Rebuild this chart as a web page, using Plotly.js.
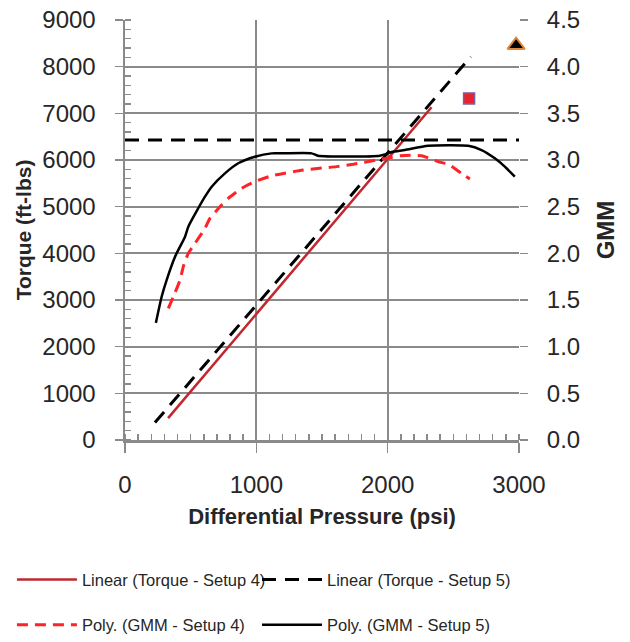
<!DOCTYPE html>
<html>
<head>
<meta charset="utf-8">
<script src="https://cdn.plot.ly/plotly-3.0.1.min.js"></script>
<style>
  html, body { margin: 0; padding: 0; background: #ffffff; }
  #chart { width: 630px; height: 642px; }
</style>
</head>
<body>
<div id="chart"></div>
<script>
// ---- Data ----
// Linear trendlines of torque (ft-lbs) vs differential pressure (psi)
const linTorque4Pressure = [328, 2334];
const linTorque4Values   = [470, 7130];
const linTorque5Pressure = [228, 2633];
const linTorque5Values   = [375, 8214];

// Polynomial fits of GMM vs differential pressure (psi)
const polyGmm4Pressure = [330, 368, 419, 444, 482, 533, 609, 647, 736, 786, 888, 989, 1116, 1357, 1611, 1738, 1916, 2000, 2100, 2258, 2384, 2461, 2562, 2626];
const polyGmm4Values   = [1.41, 1.535, 1.714, 1.857, 2.0, 2.107, 2.268, 2.375, 2.518, 2.589, 2.696, 2.768, 2.83, 2.893, 2.929, 2.954, 3.0, 3.02, 3.046, 3.046, 2.982, 2.954, 2.857, 2.796];

const polyGmm5Pressure = [235, 279, 317, 381, 457, 482, 558, 609, 660, 761, 862, 989, 1116, 1200, 1421, 1469, 1941, 2032, 2131, 2308, 2613, 2715, 2816, 2892, 2968];
const polyGmm5Values   = [1.255, 1.535, 1.714, 1.964, 2.178, 2.285, 2.483, 2.607, 2.714, 2.857, 2.965, 3.035, 3.071, 3.071, 3.071, 3.046, 3.046, 3.086, 3.107, 3.153, 3.153, 3.107, 3.018, 2.929, 2.821];

// Horizontal reference (GMM) line
const flatGmmPressure = [0, 3000];
const flatGmmValues   = [3.214, 3.214];

// Single points (GMM)
const squarePressure = [2620];
const squareGmm      = [3.66];
const trianglePressure = [2978];
const triangleGmm      = [4.23];

// Axis ticks
const xTicks  = [0, 1000, 2000, 3000];
const yTicks  = [0, 1000, 2000, 3000, 4000, 5000, 6000, 7000, 8000, 9000];
const y2Ticks = [0, 0.5, 1.0, 1.5, 2.0, 2.5, 3.0, 3.5, 4.0, 4.5];

// ---- Styles ----
const gridCol = '#8a8a8a';
const textCol = '#262626';
const tickFont = { family: 'Liberation Sans, Arial, sans-serif', size: 24, color: textCol };
const legFont = { family: 'Liberation Sans Narrow, Liberation Sans, Arial, sans-serif', size: 16.5, color: textCol };

const traces = [
  { x: linTorque4Pressure, y: linTorque4Values, mode: 'lines', name: 'Linear (Torque - Setup 4)',
    line: { color: '#c1272d', width: 2.5 }, legend: 'legend', yaxis: 'y' },
  { x: linTorque5Pressure, y: linTorque5Values, mode: 'lines', name: 'Linear (Torque - Setup 5)',
    line: { color: '#000000', width: 3, dash: '14px,9px' }, legend: 'legend2', yaxis: 'y' },
  { x: polyGmm4Pressure, y: polyGmm4Values, mode: 'lines', name: 'Poly. (GMM - Setup 4)',
    line: { color: '#ff2226', width: 3, dash: '11px,7px', shape: 'spline', smoothing: 0.6 }, legend: 'legend3', yaxis: 'y2' },
  { x: polyGmm5Pressure, y: polyGmm5Values, mode: 'lines', name: 'Poly. (GMM - Setup 5)',
    line: { color: '#000000', width: 2.5, shape: 'spline', smoothing: 0.6 }, legend: 'legend4', yaxis: 'y2' },
  { x: flatGmmPressure, y: flatGmmValues, mode: 'lines', showlegend: false,
    line: { color: '#000000', width: 3, dash: '14px,9px' }, yaxis: 'y2' },
  { x: squarePressure, y: squareGmm, mode: 'markers', showlegend: false, yaxis: 'y2', cliponaxis: false,
    marker: { symbol: 'square', size: 11, color: '#e8242a', line: { color: '#7a5ea8', width: 1.5 } } },
  { x: trianglePressure, y: triangleGmm, mode: 'markers', showlegend: false, yaxis: 'y2', cliponaxis: false,
    marker: { symbol: 'triangle-up', size: 15, color: '#000000', line: { color: '#e0873a', width: 2 } } }
];

function legendAt(x, y) {
  return {
    orientation: 'h', x: x, xanchor: 'left', y: y, yanchor: 'middle',
    itemwidth: 60, font: legFont, bgcolor: 'rgba(0,0,0,0)'
  };
}

const layout = {
  width: 630, height: 642,
  margin: { l: 125, r: 111, t: 20, b: 202, autoexpand: false },
  paper_bgcolor: '#ffffff', plot_bgcolor: '#ffffff',
  font: { family: 'Liberation Sans, Arial, sans-serif', color: textCol },
  xaxis: {
    range: [0, 3000], tickvals: xTicks, ticktext: xTicks.map(String),
    showgrid: true, gridcolor: gridCol, gridwidth: 2, zeroline: false,
    showline: true, linecolor: gridCol, linewidth: 2.5,
    ticks: 'outside', ticklen: 10, tickwidth: 1.5, tickcolor: gridCol,
    ticklabelstandoff: 12, tickfont: tickFont,
    minor: { dtick: 100, tick0: 0, ticks: 'inside', ticklen: 6, tickwidth: 1.5, tickcolor: gridCol, showgrid: false },
    title: { text: 'Differential Pressure (psi)', font: { family: 'Liberation Sans, Arial, sans-serif', size: 22, weight: 'bold', color: textCol }, standoff: 12 }
  },
  yaxis: {
    range: [0, 9000], tickvals: yTicks, ticktext: yTicks.map(String),
    showgrid: true, gridcolor: gridCol, gridwidth: 2, zeroline: false,
    showline: true, linecolor: gridCol, linewidth: 2.5,
    ticks: 'outside', ticklen: 8, tickwidth: 1.5, tickcolor: gridCol,
    ticklabelstandoff: 14, tickfont: tickFont,
    minor: { dtick: 200, tick0: 0, ticks: 'inside', ticklen: 6, tickwidth: 1.5, tickcolor: gridCol, showgrid: false },
    title: { text: 'Torque (ft-lbs)', font: { family: 'Liberation Sans, Arial, sans-serif', size: 21, weight: 'bold', color: textCol }, standoff: 5 }
  },
  yaxis2: {
    overlaying: 'y', side: 'right', anchor: 'x',
    range: [0, 4.5], tickvals: y2Ticks, ticktext: y2Ticks.map(v => v.toFixed(1)),
    showgrid: false, zeroline: false, showline: false,
    ticks: 'outside', ticklen: 8, tickwidth: 1.5, tickcolor: gridCol,
    ticklabelstandoff: 14, tickfont: tickFont,
    title: { text: 'GMM', font: { family: 'Liberation Sans, Arial, sans-serif', size: 24, weight: 'bold', color: textCol }, standoff: 18 }
  },
  legend:  legendAt(-0.287, -0.333),
  legend2: legendAt(0.335, -0.333),
  legend3: legendAt(-0.287, -0.4405),
  legend4: legendAt(0.335, -0.4405),
  showlegend: true
};

Plotly.newPlot('chart', traces, layout, { displayModeBar: false, staticPlot: true });
</script>
</body>
</html>
